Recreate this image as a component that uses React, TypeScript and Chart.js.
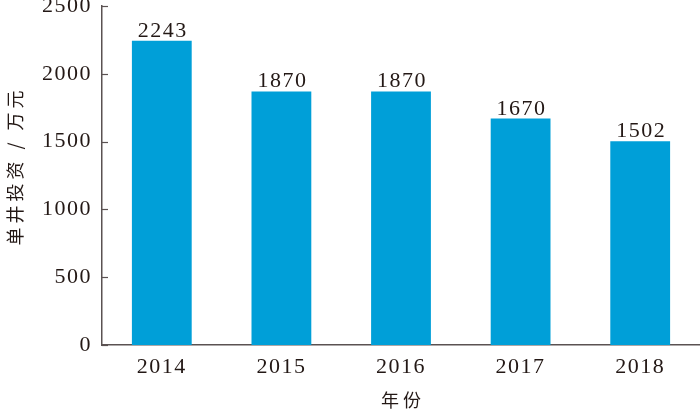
import React, { useEffect, useRef } from "react";
import { Chart, registerables } from "chart.js";

Chart.register(...registerables);

const years = ["2014", "2015", "2016", "2017", "2018"];
const investment = [2243, 1870, 1870, 1670, 1502];
const yTicks = [0, 500, 1000, 1500, 2000, 2500];
const yTitle = "单井投资 / 万元";
const xTitle = "年份";

const TEXT = "#231815";
const AXIS = "#5a5252";
const BAR = "#009fd8";
const SERIF = "'Liberation Serif', 'Times New Roman', serif";
const CJK = "'Noto Sans CJK SC', sans-serif";

const spacingPlugin = {
  id: "spacing",
  beforeDraw(chart: any) {
    (chart.ctx as any).letterSpacing = "1.5px";
  },
};

const extrasPlugin = {
  id: "extras",
  afterDraw(chart: any) {
    const ctx = chart.ctx;
    const y = chart.scales.y;
    const area = chart.chartArea;
    ctx.save();
    ctx.strokeStyle = AXIS;
    ctx.lineWidth = 1.2;
    yTicks.forEach((v) => {
      const py = Math.round(y.getPixelForValue(v)) + 0.5;
      ctx.beginPath();
      ctx.moveTo(area.left, py);
      ctx.lineTo(area.left + 6, py);
      ctx.stroke();
    });
    const meta = chart.getDatasetMeta(0);
    ctx.fillStyle = TEXT;
    ctx.font = `22px ${SERIF}`;
    (ctx as any).letterSpacing = "1.5px";
    ctx.textAlign = "center";
    ctx.textBaseline = "alphabetic";
    meta.data.forEach((el: any, i: number) => {
      ctx.fillText(String(investment[i]), el.x + 1, el.y - 4);
    });
    ctx.font = `18px ${CJK}`;
    (ctx as any).letterSpacing = "4px";
    ctx.textBaseline = "middle";
    ctx.fillText(xTitle, (area.left + area.right) / 2 + 2, 400);
    ctx.translate(15, 168);
    ctx.rotate(-Math.PI / 2);
    ctx.fillText(yTitle, 2, 0);
    ctx.restore();
  },
};

export default function App() {
  const ref = useRef<HTMLCanvasElement | null>(null);
  useEffect(() => {
    if (!ref.current) return;
    const chart = new Chart(ref.current, {
      type: "bar",
      data: {
        labels: years,
        datasets: [
          {
            data: investment,
            backgroundColor: BAR,
            borderWidth: 0,
            barPercentage: 0.5,
            categoryPercentage: 1,
          },
        ],
      },
      options: {
        animation: false,
        responsive: true,
        maintainAspectRatio: false,
        layout: { padding: { top: 6, right: 0, left: 0, bottom: 0 } },
        plugins: { legend: { display: false }, tooltip: { enabled: false } },
        scales: {
          x: {
            grid: { display: false, drawTicks: false },
            border: { display: true, color: AXIS, width: 1.5 },
            ticks: {
              color: TEXT,
              font: { family: SERIF, size: 22 },
              padding: 9,
              maxRotation: 0,
            },
            afterFit(scale: any) {
              scale.height = 68;
              scale.paddingLeft = 0;
              scale.paddingRight = 0;
            },
          },
          y: {
            min: 0,
            max: 2500,
            grid: { display: false, drawTicks: false },
            border: { display: true, color: AXIS, width: 1.5 },
            ticks: {
              stepSize: 500,
              color: TEXT,
              font: { family: SERIF, size: 22 },
              padding: 10,
              callback: (v: any) => String(v),
            },
            afterFit(scale: any) {
              scale.width = 102;
              scale.paddingTop = 0;
              scale.paddingBottom = 0;
            },
          },
        },
      },
      plugins: [spacingPlugin, extrasPlugin],
    });
    return () => chart.destroy();
  }, []);
  return (
    <div style={{ position: "absolute", left: 0, top: 0, width: 700, height: 413, background: "#fff" }}>
      <canvas ref={ref} />
    </div>
  );
}
